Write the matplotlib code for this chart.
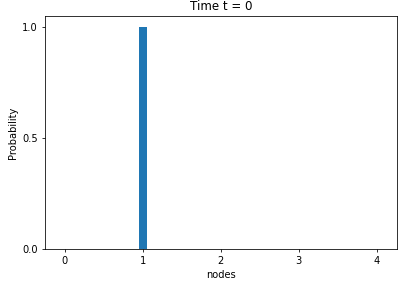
import matplotlib
matplotlib.use("Agg")
import matplotlib.pyplot as plt

nodes = [0, 1, 2, 3, 4]
probability = [0.0, 1.0, 0.0, 0.0, 0.0]
title = "Time t = 0"

DPI = 71
W, H = 398, 283
fig = plt.figure(figsize=(W / DPI, H / DPI), dpi=DPI)
left, right, top, bottom = 45, 396.5, 16, 249
ax = fig.add_axes([left / W, (H - bottom) / H, (right - left) / W, (bottom - top) / H])
ax.bar(nodes, probability, width=0.1, color="#1f77b4")
ax.set_xticks(nodes)
ax.set_yticks([0.0, 0.5, 1.0])
ax.set_xlabel("nodes")
ax.set_ylabel("Probability")
ax.set_title(title)
fig.savefig("out.png", dpi=DPI)
